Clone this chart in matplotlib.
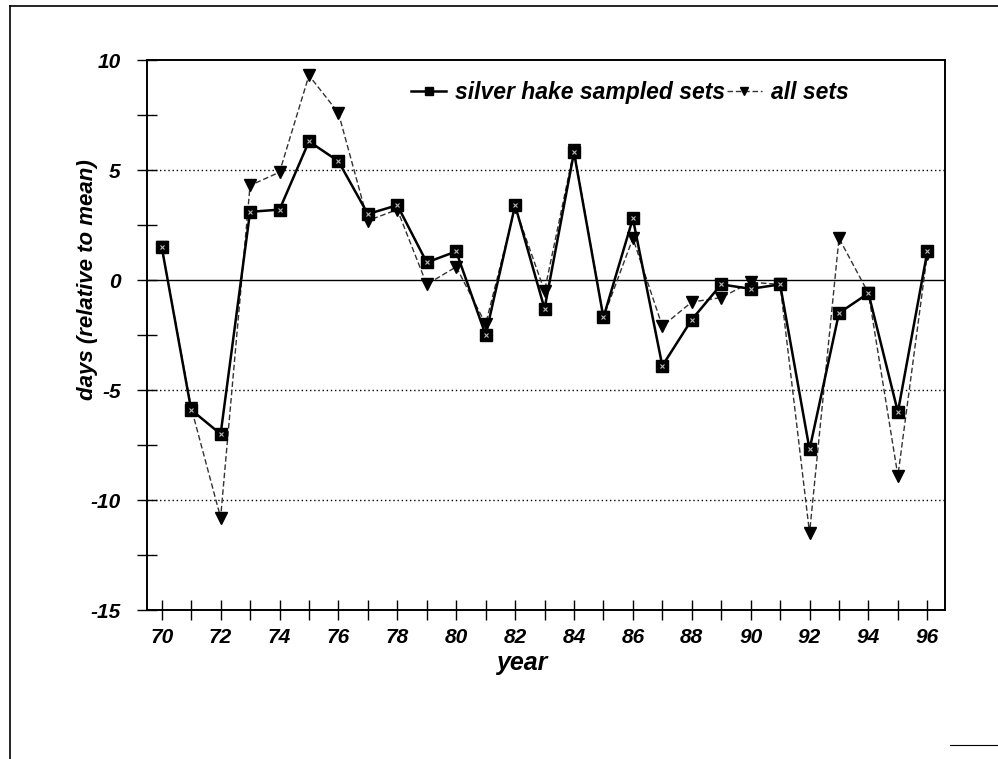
import matplotlib
matplotlib.use("Agg")
import matplotlib.pyplot as plt
from matplotlib.lines import Line2D
import numpy as np

plt.rcParams['font.family'] = ['Liberation Sans', 'DejaVu Sans']

years = list(range(70, 97))

# days relative to the mean, silver hake sampled sets
hake_sets = [1.5, -5.9, -7.0, 3.1, 3.2, 6.3, 5.4, 3.0, 3.4, 0.8,
             1.3, -2.5, 3.4, -1.3, 5.8, -1.7, 2.8, -3.9, -1.8, -0.2,
             -0.4, -0.2, -7.7, -1.5, -0.6, -6.0, 1.3]

# days relative to the mean, all sets
all_sets = [1.5, -5.8, -10.8, 4.3, 4.9, 9.3, 7.6, 2.7, 3.2, -0.2,
            0.6, -2.0, 3.3, -0.5, 5.9, -1.7, 1.9, -2.1, -1.0, -0.8,
            -0.1, -0.2, -11.5, 1.9, -0.6, -8.9, 1.2]

y_major = [10, 5, 0, -5, -10, -15]
x_labels = list(range(70, 97, 2))

fig = plt.figure(figsize=(9.98, 7.59), dpi=100)
ax = fig.add_axes([0.1473, 0.1963, 0.7996, 0.7246])

# outer frame of the page
fig.add_artist(Line2D([0.010, 0.010], [0.0, 0.992], transform=fig.transFigure,
                      color='black', lw=1.2))
fig.add_artist(Line2D([0.010, 1.0], [0.992, 0.992], transform=fig.transFigure,
                      color='black', lw=1.2))
fig.add_artist(Line2D([0.952, 1.0], [0.018, 0.018], transform=fig.transFigure,
                      color='black', lw=0.8))

ax.set_xlim(69.5, 96.6)
ax.set_ylim(-15, 10)

for g in [5, -5, -10]:
    ax.axhline(g, color='black', lw=1.0, ls=(0, (1, 2)), zorder=1)
ax.axhline(0, color='black', lw=1.0, zorder=1)

ax.plot(years, all_sets, color='#333333', lw=1.0, ls=(0, (4, 2)),
        marker='v', ms=8, mfc='black', mec='black', zorder=3,
        label='all sets')
ax.plot(years, hake_sets, color='black', lw=1.8, ls='-',
        marker='s', ms=9, mfc='black', mec='black', zorder=4,
        label='silver hake sampled sets')
ax.plot(years, hake_sets, ls='none', marker='x', ms=3, mec='#bbbbbb',
        mew=0.8, zorder=5)

ax.set_yticks(y_major)
ax.set_yticks(np.arange(-15, 10.1, 2.5), minor=True)
ax.set_xticks(years, minor=True)
ax.set_xticks(x_labels)
ax.set_xticklabels([str(v) for v in x_labels])
ax.set_yticklabels([str(v) for v in y_major])

ax.tick_params(axis='both', which='both', direction='inout', color='black',
               width=1.0, labelsize=15)
ax.tick_params(axis='both', which='major', length=14)
ax.tick_params(axis='both', which='minor', length=14)
ax.tick_params(axis='x', pad=6)
ax.tick_params(axis='y', pad=12)
for lab in ax.get_xticklabels() + ax.get_yticklabels():
    lab.set_fontweight('bold')
    lab.set_fontstyle('italic')

for side in ['left', 'right', 'top', 'bottom']:
    ax.spines[side].set_linewidth(1.4)

ax.set_xlabel('year', fontsize=18, fontweight='bold', fontstyle='italic')
ax.xaxis.set_label_coords(0.47, -0.075)
ax.set_ylabel('days (relative to mean)', fontsize=16, fontweight='bold',
              fontstyle='italic')
ax.yaxis.set_label_coords(-0.062, 0.6)

handles, labels = ax.get_legend_handles_labels()
leg = ax.legend(handles[::-1], labels[::-1], loc='upper right',
                bbox_to_anchor=(0.905, 1.0), ncol=2, frameon=False,
                prop={'weight': 'bold', 'style': 'italic', 'size': 16.5},
                handlelength=1.5, handletextpad=0.4, columnspacing=0.1,
                markerscale=0.7)

fig.savefig('out.png', dpi=100)
